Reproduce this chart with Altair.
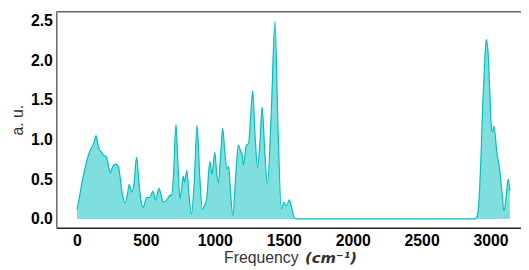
import altair as alt
import pandas as pd

freq = [0, 20, 38, 56, 74, 92, 110, 125, 138, 150, 162, 178, 193, 210, 225, 241, 260, 277, 292, 305,
        318, 333, 348, 363, 379, 396, 414, 432, 450, 465, 480, 492, 504, 527, 551, 570, 594, 610, 623,
        640, 659, 675, 687, 700, 718, 732, 747, 760, 771, 780, 797, 812, 830, 850, 871, 890, 909, 925,
        940, 964, 978, 1000, 1012, 1026, 1040, 1057, 1072, 1088, 1100, 1115, 1131, 1150, 1170, 1188,
        1197, 1207, 1229, 1245, 1258, 1274, 1292, 1310, 1328, 1343, 1362, 1381, 1410, 1436, 1458, 1482,
        1501, 1518, 1541, 1560, 1577, 1595, 2890, 2905, 2915, 2930, 2945, 2960, 2968, 2980, 2995, 3008,
        3016, 3025, 3045, 3069, 3085, 3097, 3112, 3128, 3140]
absorb = [0.116, 0.30, 0.48, 0.62, 0.75, 0.85, 0.91, 0.97, 1.05, 0.95, 0.87, 0.84, 0.80, 0.79, 0.70,
          0.58, 0.66, 0.69, 0.68, 0.62, 0.45, 0.27, 0.20, 0.28, 0.435, 0.34, 0.45, 0.78, 0.45, 0.22,
          0.145, 0.20, 0.27, 0.27, 0.35, 0.236, 0.385, 0.30, 0.215, 0.22, 0.257, 0.30, 0.29, 0.55, 1.19,
          0.70, 0.25, 0.40, 0.54, 0.46, 0.61, 0.30, 0.06, 0.45, 1.18, 0.55, 0.124, 0.17, 0.25, 0.725,
          0.56, 0.84, 0.60, 0.45, 0.75, 1.14, 0.85, 0.63, 0.66, 0.30, 0.04, 0.50, 0.93, 0.85, 0.82,
          0.68, 0.93, 0.95, 1.25, 1.61, 1.05, 0.64, 1.00, 1.41, 0.85, 0.435, 1.37, 2.49, 1.16, 0.124,
          0.21, 0.165, 0.24, 0.12, 0.01, 0.0, 0.0, 0.05, 0.20, 0.75, 1.50, 2.05, 2.26, 2.15, 1.60, 1.12,
          1.10, 1.17, 0.85, 0.58, 0.30, 0.10, 0.25, 0.50, 0.35]

x_ticks = [0, 500, 1000, 1500, 2000, 2500, 3000]
y_ticks = [0.0, 0.5, 1.0, 1.5, 2.0, 2.5]

df = pd.DataFrame({"freq": freq, "val": absorb})
df["base"] = 0.0

W, H = 471, 219
FONT = "Liberation Sans"
COLOR = "#00BFBF"

xs = alt.Scale(domain=[-150, 3221], nice=False, zero=False)
ys = alt.Scale(domain=[-0.112, 2.61], nice=False, zero=False)

x_axis = alt.Axis(values=x_ticks, format="d", title=None, ticks=False, labelPadding=5, grid=False,
                  labelFont=FONT, labelFontSize=16, labelFontWeight=700, labelColor="#000000",
                  domain=True, domainColor="#222222", domainWidth=1.5, labelFlush=False)
y_axis = alt.Axis(values=y_ticks, format=".1f", title="a. u.", ticks=False, labelPadding=4,
                  grid=False, labelFont=FONT, labelFontSize=16, labelFontWeight=700,
                  labelColor="#000000", domain=True, domainColor="#666666", domainWidth=1.5,
                  titleFont=FONT, titleFontSize=16,
                  titleFontWeight="normal", titleColor="#333333", titleX=-34, titleY=H / 2,
                  titleAngle=270, titleAlign="center", titleBaseline="alphabetic")

area = alt.Chart(df).mark_area(color=COLOR, opacity=0.5, interpolate="monotone").encode(
    x=alt.X("freq:Q", scale=xs, axis=x_axis),
    y=alt.Y("val:Q", scale=ys, axis=y_axis),
    y2="base:Q",
)
line = alt.Chart(df).mark_line(color=COLOR, strokeWidth=1.2, interpolate="monotone").encode(
    x=alt.X("freq:Q", scale=xs),
    y=alt.Y("val:Q", scale=ys),
)

top_border = alt.Chart(pd.DataFrame({"k": [0]})).mark_rule(color="#666666", strokeWidth=1.5).encode(
    x=alt.value(0), x2=alt.value(W), y=alt.value(0)
)

t1 = alt.Chart(pd.DataFrame({"t": ["Frequency"]})).mark_text(
    font=FONT, fontSize=16, color="#333333", align="left", baseline="alphabetic"
).encode(text="t:N", x=alt.value(170), y=alt.value(255))
t2 = alt.Chart(pd.DataFrame({"t": ["(cm⁻¹)"]})).mark_text(
    font="DejaVu Sans", fontSize=15, fontWeight="bold", fontStyle="italic", color="#333333",
    align="left", baseline="alphabetic"
).encode(text="t:N", x=alt.value(252), y=alt.value(255))

chart = alt.layer(area, line, top_border, t1, t2).properties(
    width=W, height=H,
    autosize=alt.AutoSizeParams(type="none"),
    padding={"left": 49, "top": 2, "right": 0, "bottom": 41},
    background="white",
).configure_view(strokeWidth=0)

chart.save("out.html", embed_options={"renderer": "svg", "actions": False})
